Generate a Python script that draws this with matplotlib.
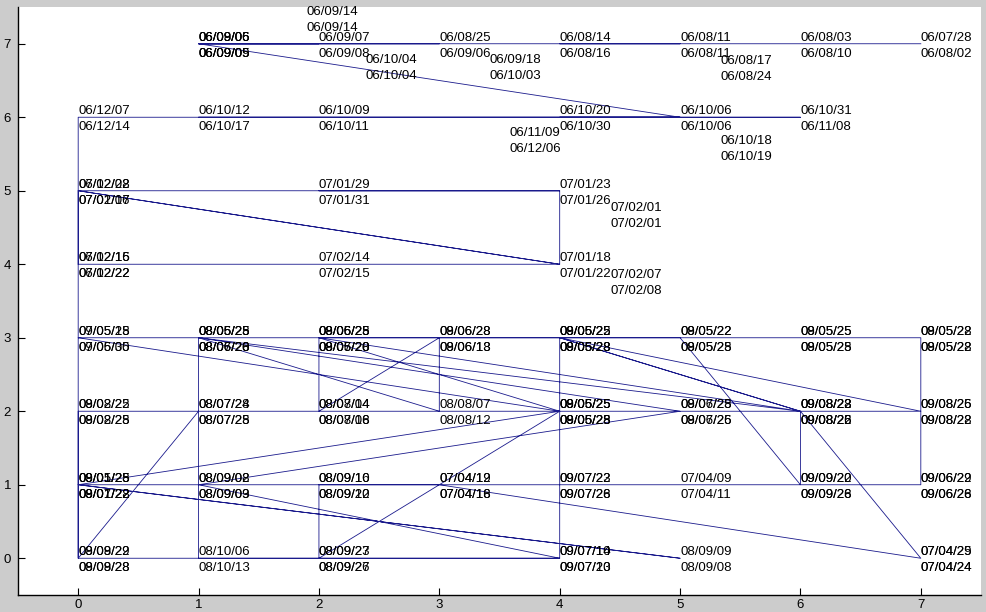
import matplotlib.pyplot as plt

plt.rcParams['font.family'] = ['Liberation Sans', 'DejaVu Sans']

# visits in order: grid position + date span (from / to)
# upper part (2006 - early 2007)
px_top = [7, 6, 5, 4, 5, 3, 2, 1, 2, 1, 3, 2, 1,
          5, 2, 1, 5, 4, 6, 4, 0,
          0, 0, 4, 4, 2, 4, 0, 4, 2, 0]
py_top = [7, 7, 7, 7, 7, 7, 7, 7, 7, 7, 7, 7, 7,
          6, 6, 6, 6, 6, 6, 6, 6,
          4, 5, 4, 5, 5, 5, 5, 4, 4, 4]
from_top = ["06/07/28", "06/08/03", "06/08/11", "06/08/14", "06/08/17", "06/08/25",
            "06/09/07", "06/09/05", "06/09/14", "06/08/06", "06/09/18", "06/10/04",
            "06/09/06",
            "06/10/06", "06/10/09", "06/10/12", "06/10/18", "06/10/20", "06/10/31",
            "06/11/09", "06/12/07",
            "06/12/15", "06/12/28", "07/01/18", "07/01/23", "07/01/29", "07/02/01",
            "07/02/02", "07/02/07", "07/02/14", "07/02/16"]
to_top = ["06/08/02", "06/08/10", "06/08/11", "06/08/16", "06/08/24", "06/09/06",
          "06/09/08", "06/09/05", "06/09/14", "06/09/09", "06/10/03", "06/10/04",
          "06/09/05",
          "06/10/06", "06/10/11", "06/10/17", "06/10/19", "06/10/30", "06/11/08",
          "06/12/06", "06/12/14",
          "06/12/22", "07/01/17", "07/01/22", "07/01/26", "07/01/31", "07/02/01",
          "07/02/06", "07/02/08", "07/02/15", "07/02/22"]

# lower part (2007 - 2009)
px_low = [0, 4, 2, 2, 1, 0, 5, 0, 4, 4, 4, 4, 1, 5, 5, 1, 3, 3, 2, 2,
          2, 4, 4, 6, 7, 7, 3, 3, 2, 5, 6, 7, 7, 7, 7, 7, 6, 6, 5, 4,
          3, 2, 1, 0, 0, 0, 0, 1, 1, 2, 4, 0, 0, 7, 4, 6, 6, 5, 2, 6,
          1, 1]
py_low = [3, 2, 0, 1, 1, 1, 0, 1, 2, 1, 1, 0, 1, 2, 2, 3, 2, 3, 2, 2,
          3, 2, 3, 2, 0, 0, 1, 1, 1, 1, 1, 1, 1, 2, 3, 3, 3, 3, 3, 3,
          3, 3, 3, 3, 2, 1, 0, 2, 0, 0, 0, 0, 2, 2, 3, 2, 1, 3, 3, 2,
          3, 2]
from_low = ["07/05/18", "08/05/25", "08/09/23", "08/09/10", "08/09/08", "08/01/25",
            "08/09/09", "09/05/28", "09/05/25", "09/07/22", "09/07/23", "09/07/10",
            "08/09/02", "08/06/25", "09/07/28", "08/05/25", "08/08/07", "08/06/28",
            "08/08/04", "08/07/14",
            "08/05/25", "09/06/25", "08/05/25", "09/08/22", "07/04/29", "07/04/25",
            "07/04/12", "07/04/19", "08/09/16", "07/04/09", "09/09/20", "09/06/22",
            "09/06/29", "09/08/26", "09/05/22", "08/05/28", "09/05/25", "08/05/25",
            "09/05/22", "09/05/25",
            "09/06/28", "09/06/25", "08/06/25", "09/05/25", "08/08/25", "09/01/25",
            "08/08/22", "08/07/24", "08/10/06", "08/09/27", "09/07/14", "09/09/29",
            "09/02/22", "09/08/25", "09/06/22", "09/08/28", "09/09/22", "08/05/22",
            "08/06/28", "09/08/23",
            "08/05/28", "08/07/28"]
to_low = ["07/05/30", "08/05/28", "08/09/26", "08/09/12", "08/09/09", "08/01/28",
          "08/09/08", "09/07/22", "09/05/25", "09/07/26", "09/07/28", "09/07/13",
          "08/09/03", "08/06/25", "09/07/26", "08/06/28", "08/08/12", "08/06/18",
          "08/08/06", "08/07/18",
          "08/05/28", "09/06/28", "08/06/28", "09/08/25", "07/04/24", "07/04/24",
          "07/04/18", "07/04/16", "08/09/20", "07/04/11", "09/09/26", "09/06/26",
          "09/06/28", "09/08/28", "09/05/28", "08/05/22", "09/05/25", "08/05/28",
          "09/05/25", "09/05/28",
          "09/06/13", "09/06/20", "08/07/20", "09/06/05", "08/08/28", "09/01/22",
          "08/08/28", "08/07/25", "08/10/13", "08/09/27", "09/07/20", "09/09/28",
          "09/02/25", "09/08/22", "09/05/28", "09/08/22", "09/09/28", "08/05/28",
          "08/07/20", "09/08/26",
          "08/06/26", "08/07/28"]

px = px_top + px_low
py = py_top + py_low
d_from = from_top + from_low
d_to = to_top + to_low

# repeat visits whose labels were drawn beside the point
moved = {4: (5.34, 6.68), 8: (1.90, 7.35), 10: (3.42, 6.70), 11: (2.39, 6.70),
         16: (5.34, 5.59), 19: (3.58, 5.71), 26: (4.42, 4.69), 28: (4.42, 3.77)}

fig = plt.figure(figsize=(9.86, 6.12), dpi=100, facecolor='#cccccc')
ax = fig.add_axes([18 / 986, 17 / 612, 963 / 986, 588 / 612])
ax.set_facecolor('white')

ax.plot(px, py, color='#1a1a8c', lw=0.6)

for i, (x, y, a, b) in enumerate(zip(px, py, d_from, d_to)):
    lx, ly = moved.get(i, (x, y))
    ax.annotate(a, (lx, ly), xytext=(0, 3), textcoords='offset pixels',
                fontsize=9.5, ha='left', va='baseline', color='black')
    ax.annotate(b, (lx, ly), xytext=(0, -13), textcoords='offset pixels',
                fontsize=9.5, ha='left', va='baseline', color='black')

ax.set_xlim(-0.5, 7.5)
ax.set_ylim(-0.5, 7.5)
ax.set_xticks(range(8))
ax.set_yticks(range(8))
ax.spines['top'].set_visible(False)
ax.spines['right'].set_visible(False)
ax.spines['left'].set_linewidth(1)
ax.spines['bottom'].set_linewidth(1)
ax.tick_params(direction='in', length=5, labelsize=9.5, pad=3)
ax.tick_params(axis='y', pad=5)

fig.savefig('out.png', dpi=100, facecolor=fig.get_facecolor())
